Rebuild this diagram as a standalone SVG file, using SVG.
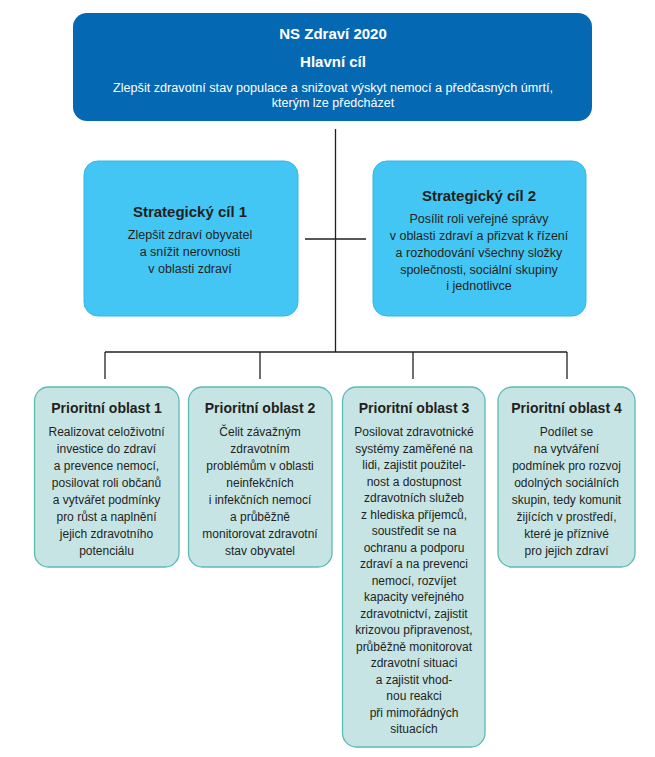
<svg xmlns="http://www.w3.org/2000/svg" width="655" height="757" viewBox="0 0 655 757">
<style>
text{font-family:"Liberation Sans","Open Sans",sans-serif;text-anchor:middle}
.main{fill:#0568b3}
.wt{fill:#ffffff}
.sc{fill:#43c6f4;stroke:#35b6e6;stroke-width:1}
.po{fill:#c7e4e4;stroke:#5cbab6;stroke-width:1.3}
.dk{fill:#231f20}
.b{font-weight:bold}
.conn line{stroke:#231f20;stroke-width:1.3}
</style>
<rect width="655" height="757" fill="#ffffff"/>
<g class="conn">
<line x1="335.5" y1="129" x2="335.5" y2="352"/>
<line x1="305" y1="239" x2="366" y2="239"/>
<line x1="105" y1="352" x2="567" y2="352"/>
<line x1="105" y1="352" x2="105" y2="379"/>
<line x1="260" y1="352" x2="260" y2="379"/>
<line x1="413" y1="352" x2="413" y2="379"/>
<line x1="567" y1="352" x2="567" y2="379"/>
</g>
<g id="main">
<rect class="main" x="73" y="13" width="519" height="108" rx="14"/>
<text class="wt b" x="333" y="39" font-size="15">NS Zdraví 2020</text>
<text class="wt b" x="333" y="67" font-size="15">Hlavní cíl</text>
<text class="wt" x="333" y="92" font-size="12.5" textLength="440" lengthAdjust="spacingAndGlyphs">Zlepšit zdravotní stav populace a snižovat výskyt nemocí a předčasných úmrtí,</text>
<text class="wt" x="333" y="107" font-size="12.5">kterým lze předcházet</text>
</g>
<g id="sc1">
<rect class="sc" x="84" y="161" width="214" height="155" rx="14"/>
<text class="dk b" x="190" y="217" font-size="15">Strategický cíl 1</text>
<text class="dk" x="190" y="239" font-size="12.5">Zlepšit zdraví obyvatel</text>
<text class="dk" x="190" y="256" font-size="12.5">a snížit nerovnosti</text>
<text class="dk" x="190" y="273" font-size="12.5">v oblasti zdraví</text>
</g>
<g id="sc2">
<rect class="sc" x="373" y="161" width="213" height="155" rx="14"/>
<text class="dk b" x="479" y="201" font-size="15">Strategický cíl 2</text>
<text class="dk" x="479" y="223" font-size="12.5">Posílit roli veřejné správy</text>
<text class="dk" x="479" y="240" font-size="12.5">v oblasti zdraví a přizvat k řízení</text>
<text class="dk" x="479" y="257" font-size="12.5">a rozhodování všechny složky</text>
<text class="dk" x="479" y="274" font-size="12.5">společnosti, sociální skupiny</text>
<text class="dk" x="479" y="290" font-size="12.5">i jednotlivce</text>
</g>
<g id="p1">
<rect class="po" x="34.5" y="387" width="144.5" height="180" rx="14"/>
<text class="dk b" x="106.5" y="413" font-size="14">Prioritní oblast 1</text>
<g class="dk" font-size="12">
<text x="106.5" y="436">Realizovat celoživotní</text>
<text x="106.5" y="453">investice do zdraví</text>
<text x="106.5" y="470">a prevence nemocí,</text>
<text x="106.5" y="487">posilovat roli občanů</text>
<text x="106.5" y="504">a vytvářet podmínky</text>
<text x="106.5" y="521">pro růst a naplnění</text>
<text x="106.5" y="538">jejich zdravotního</text>
<text x="106.5" y="555">potenciálu</text>
</g>
</g>
<g id="p2">
<rect class="po" x="188.5" y="387" width="143.5" height="180" rx="14"/>
<text class="dk b" x="260" y="413" font-size="14">Prioritní oblast 2</text>
<g class="dk" font-size="12">
<text x="260" y="436">Čelit závažným</text>
<text x="260" y="453">zdravotním</text>
<text x="260" y="470">problémům v oblasti</text>
<text x="260" y="487">neinfekčních</text>
<text x="260" y="504">i infekčních nemocí</text>
<text x="260" y="521">a průběžně</text>
<text x="260" y="538">monitorovat zdravotní</text>
<text x="260" y="555">stav obyvatel</text>
</g>
</g>
<g id="p3">
<rect class="po" x="342.5" y="387" width="142.5" height="360" rx="14"/>
<text class="dk b" x="414" y="413" font-size="14">Prioritní oblast 3</text>
<g class="dk" font-size="12">
<text x="414" y="436">Posilovat zdravotnické</text>
<text x="414" y="452.5">systémy zaměřené na</text>
<text x="414" y="469">lidi, zajistit použitel-</text>
<text x="414" y="485.5">nost a dostupnost</text>
<text x="414" y="502">zdravotních služeb</text>
<text x="414" y="518.5">z hlediska příjemců,</text>
<text x="414" y="535">soustředit se na</text>
<text x="414" y="551.5">ochranu a podporu</text>
<text x="414" y="568">zdraví a na prevenci</text>
<text x="414" y="584.5">nemocí, rozvíjet</text>
<text x="414" y="601">kapacity veřejného</text>
<text x="414" y="617.5">zdravotnictví, zajistit</text>
<text x="414" y="634">krizovou připravenost,</text>
<text x="414" y="650.5">průběžně monitorovat</text>
<text x="414" y="667">zdravotní situaci</text>
<text x="414" y="683.5">a zajistit vhod-</text>
<text x="414" y="700">nou reakci</text>
<text x="414" y="716.5">při mimořádných</text>
<text x="414" y="733">situacích</text>
</g>
</g>
<g id="p4">
<rect class="po" x="498" y="387" width="137" height="180" rx="14"/>
<text class="dk b" x="566.5" y="413" font-size="14">Prioritní oblast 4</text>
<g class="dk" font-size="12">
<text x="566.5" y="436">Podílet se</text>
<text x="566.5" y="453">na vytváření</text>
<text x="566.5" y="470">podmínek pro rozvoj</text>
<text x="566.5" y="487">odolných sociálních</text>
<text x="566.5" y="504">skupin, tedy komunit</text>
<text x="566.5" y="521">žijících v prostředí,</text>
<text x="566.5" y="538">které je příznivé</text>
<text x="566.5" y="555">pro jejich zdraví</text>
</g>
</g>
</svg>
